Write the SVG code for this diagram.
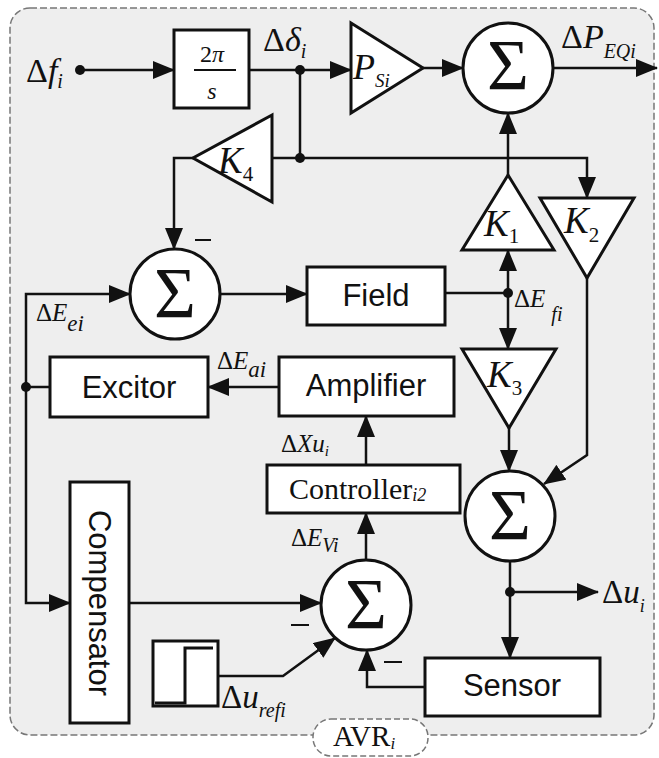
<svg xmlns="http://www.w3.org/2000/svg" width="659" height="758" viewBox="0 0 659 758">
<defs>
<marker id="ah" markerWidth="22" markerHeight="18" refX="21" refY="9" orient="auto" markerUnits="userSpaceOnUse"><path d="M0,0 L22,9 L0,18 z" fill="#111"/></marker>
<style>
.bg{fill:#eeeeee;stroke:#777;stroke-width:1.5;stroke-dasharray:7 3}
.box{fill:#fff;stroke:#111;stroke-width:3}
.w{fill:none;stroke:#111;stroke-width:2.5}
.a{marker-end:url(#ah)}
.dot{fill:#111}
.s{font-family:"Liberation Sans",Arial,sans-serif;font-size:31px;fill:#111;text-anchor:middle}
.m{font-family:"Liberation Serif","Times New Roman",serif;font-style:italic;fill:#111}
.u{font-style:normal}
.sig{font-family:"Liberation Serif","Times New Roman",serif;font-size:72px;fill:#111;text-anchor:middle}
.minus{stroke:#111;stroke-width:2}
</style>
</defs>
<rect class="bg" x="10" y="8" width="644" height="727" rx="20"/>

<g id="input">
<text class="m" x="26" y="82" font-size="34"><tspan class="u">Δ</tspan>f<tspan font-size="20" dy="6">i</tspan></text>
<circle class="dot" cx="80" cy="70" r="5"/>
</g>
<g id="integrator">
<rect class="box" x="174" y="30" width="75" height="78"/>
<text class="m" x="212" y="62" font-size="24" text-anchor="middle"><tspan class="u">2</tspan>π</text>
<line x1="194" y1="70" x2="236" y2="70" stroke="#111" stroke-width="2"/>
<text class="m" x="212" y="99" font-size="24" text-anchor="middle">s</text>
</g>
<g id="delta-label">
<text class="m" x="263" y="51" font-size="34"><tspan class="u">Δ</tspan>δ<tspan font-size="20" dy="7">i</tspan></text>
</g>
<g id="Psi">
<polygon class="box" points="351,23 423,68 351,113"/>
<text class="m" x="353" y="79" font-size="36">P<tspan font-size="19" dy="8">Si</tspan></text>
</g>
<g id="sum1">
<circle class="box" cx="508" cy="68" r="45"/>
<text class="sig" x="508" y="89">Σ</text>
</g>
<g id="out-P">
<text class="m" x="561" y="48" font-size="34"><tspan class="u">Δ</tspan>P<tspan font-size="20" dy="10">EQi</tspan></text>
</g>
<g id="K4">
<polygon class="box" points="272,115 193,158 272,202"/>
<text class="m" x="218" y="173" font-size="37">K<tspan font-size="21" dy="8" class="u">4</tspan></text>
</g>
<g id="K1">
<polygon class="box" points="508,175 554,250 462,250"/>
<text class="m" x="484" y="236" font-size="37">K<tspan font-size="21" dy="7" class="u">1</tspan></text>
</g>
<g id="K2">
<polygon class="box" points="540,198 634,198 587,278"/>
<text class="m" x="564" y="233" font-size="37">K<tspan font-size="21" dy="9" class="u">2</tspan></text>
</g>
<g id="K3">
<polygon class="box" points="462,349 556,349 509,428"/>
<text class="m" x="487" y="387" font-size="37">K<tspan font-size="21" dy="8" class="u">3</tspan></text>
</g>
<g id="sum2">
<circle class="box" cx="175" cy="294" r="45"/>
<text class="sig" x="175" y="317">Σ</text>
<line class="minus" x1="195" y1="240" x2="211" y2="240"/>
</g>
<g id="field">
<rect class="box" x="307" y="267" width="138" height="58"/>
<text class="s" x="376" y="306">Field</text>
</g>
<g id="Efi-label">
<text class="m" x="514" y="307" font-size="25"><tspan class="u">Δ</tspan>E<tspan font-size="20" dx="6" dy="14">fi</tspan></text>
</g>
<g id="Eei-label">
<text class="m" x="36" y="321" font-size="25"><tspan class="u">Δ</tspan>E<tspan font-size="23" dy="10">ei</tspan></text>
</g>
<g id="excitor">
<rect class="box" x="50" y="357" width="158" height="60"/>
<text class="s" x="129" y="398">Excitor</text>
</g>
<g id="amplifier">
<rect class="box" x="279" y="357" width="175" height="59"/>
<text class="s" x="366" y="396">Amplifier</text>
</g>
<g id="Eai-label">
<text class="m" x="217" y="369" font-size="25"><tspan class="u">Δ</tspan>E<tspan font-size="23" dy="8">ai</tspan></text>
</g>
<g id="Xu-label">
<text class="m" x="281" y="452" font-size="25"><tspan class="u">Δ</tspan>Xu<tspan font-size="15" dy="4">i</tspan></text>
</g>
<g id="controller">
<rect class="box" x="267" y="465" width="193" height="48"/>
<text class="m u" x="289" y="499" font-size="30">Controller<tspan font-size="18" font-style="italic" dy="2">i2</tspan></text>
</g>
<g id="EVi-label">
<text class="m" x="291" y="546" font-size="25"><tspan class="u">Δ</tspan>E<tspan font-size="20" dy="6">Vi</tspan></text>
</g>
<g id="sum3">
<circle class="box" cx="510" cy="516" r="45"/>
<text class="sig" x="510" y="539">Σ</text>
</g>
<g id="out-u">
<text class="m" x="602" y="603" font-size="33"><tspan class="u">Δ</tspan>u<tspan font-size="18" dy="9">i</tspan></text>
</g>
<g id="sum4">
<circle class="box" cx="366" cy="605" r="45"/>
<text class="sig" x="366" y="628">Σ</text>
<line class="minus" x1="291" y1="625" x2="309" y2="625"/>
<line class="minus" x1="384" y1="662" x2="402" y2="662"/>
</g>
<g id="compensator">
<rect class="box" x="70" y="482" width="59" height="241"/>
<text class="s" transform="translate(100,603) rotate(90)" x="0" y="11" font-size="32">Compensator</text>
</g>
<g id="step">
<rect class="box" x="153" y="641" width="65" height="65"/>
<path d="M155,703 H185 V648 H213" fill="none" stroke="#111" stroke-width="3"/>
<text class="m" x="221" y="708" font-size="33"><tspan class="u">Δ</tspan>u<tspan font-size="20" dy="9">refi</tspan></text>
</g>
<g id="sensor">
<rect class="box" x="425" y="658" width="175" height="58"/>
<text class="s" x="512" y="696">Sensor</text>
</g>

<g id="connectors">
<path class="w a" d="M80,70 H174"/>
<path class="w a" d="M249,70 H351"/>
<path class="w" d="M300,70 V158"/>
<path class="w a" d="M272,158 H587 V198"/>
<path class="w a" d="M423,68 H463"/>
<path class="w a" d="M553,68 H657"/>
<path class="w a" d="M508,175 V113"/>
<path class="w a" d="M193,158 H174 V249"/>
<path class="w a" d="M26,387 V294 H130"/>
<path class="w a" d="M26,387 V603 H70"/>
<path class="w" d="M50,387 H26"/>
<path class="w a" d="M220,294 H307"/>
<path class="w" d="M445,293 H508"/>
<path class="w a" d="M508,293 V250"/>
<path class="w a" d="M508,293 V349"/>
<path class="w a" d="M509,428 V471"/>
<path class="w a" d="M587,278 V455 L544,484"/>
<path class="w a" d="M510,561 V658"/>
<path class="w a" d="M510,592 H598"/>
<path class="w a" d="M425,687 H367 V650"/>
<path class="w a" d="M129,603 H321"/>
<path class="w a" d="M218,676 H283 L335,638"/>
<path class="w a" d="M366,560 V513"/>
<path class="w a" d="M366,465 V416"/>
<path class="w a" d="M279,387 H208"/>
<circle class="dot" cx="300" cy="70" r="5"/>
<circle class="dot" cx="300" cy="158" r="5"/>
<circle class="dot" cx="508" cy="293" r="5"/>
<circle class="dot" cx="26" cy="387" r="5"/>
<circle class="dot" cx="510" cy="592" r="5"/>
</g>

<g id="avr-label">
<rect x="313" y="719" width="115" height="37" rx="18" fill="#fff" stroke="#777" stroke-width="1.5" stroke-dasharray="6 3"/>
<text class="m u" x="364" y="746" font-size="29" text-anchor="middle">AVR<tspan font-size="17" font-style="italic" dy="3">i</tspan></text>
</g>
</svg>
